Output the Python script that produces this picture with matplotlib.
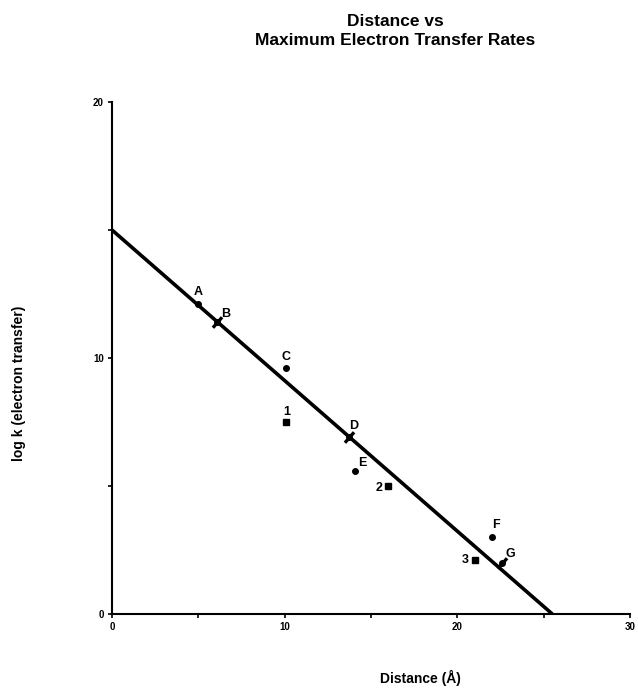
import matplotlib.pyplot as plt
from matplotlib.ticker import MultipleLocator

# data
labels = ["A", "B", "C", "D", "E", "F", "G"]
dist = [5.0, 6.1, 10.1, 13.7, 14.1, 22.0, 22.6]
logk = [12.1, 11.4, 9.6, 6.9, 5.6, 3.0, 2.0]
on_line = ["B", "D", "G"]

sq_labels = ["1", "2", "3"]
sq_dist = [10.1, 16.0, 21.0]
sq_logk = [7.5, 5.0, 2.1]

fit_x = [0.0, 25.5]
fit_y = [15.0, 0.0]

# label offsets in pixels (dx, dy)
offsets = {"A": (0, 12), "B": (8, 8), "C": (0, 11), "D": (5, 11),
           "E": (7, 8), "F": (4, 12), "G": (8, 9),
           "1": (0, 10), "2": (-9, -2), "3": (-9, 0)}

plt.rcParams["font.family"] = ["Liberation Sans", "DejaVu Sans"]
plt.rcParams["font.weight"] = "bold"

fig = plt.figure(figsize=(6.38, 6.94), dpi=100)
ax = fig.add_axes([112 / 638, 1 - 614 / 694, 518 / 638, 512 / 694])

ax.plot(fit_x, fit_y, color="black", lw=2.6, solid_capstyle="butt", zorder=2)

for lab, x, y in zip(labels, dist, logk):
    if lab in on_line:
        ax.plot(x, y, marker=(2, 0, -41), color="black", ms=10, mew=2.4, zorder=3)
        ax.plot(x, y, "o", color="black", ms=4, zorder=3)
    else:
        ax.plot(x, y, "o", color="black", ms=4, zorder=3)
    ax.annotate(lab, (x, y), xytext=offsets[lab], textcoords="offset pixels",
                ha="center", va="center", fontsize=9, fontweight="bold")

for lab, x, y in zip(sq_labels, sq_dist, sq_logk):
    ax.plot(x, y, "s", color="black", ms=4.5, zorder=3)
    ax.annotate(lab, (x, y), xytext=offsets[lab], textcoords="offset pixels",
                ha="center", va="center", fontsize=9, fontweight="bold")

ax.set_xlim(0, 30)
ax.set_ylim(0, 20)
ax.xaxis.set_major_locator(MultipleLocator(10))
ax.xaxis.set_minor_locator(MultipleLocator(5))
ax.yaxis.set_major_locator(MultipleLocator(10))
ax.yaxis.set_minor_locator(MultipleLocator(5))
ax.tick_params(which="both", direction="out", length=3, width=1.2, labelsize=7, pad=3)
for lbl in ax.get_xticklabels() + ax.get_yticklabels():
    lbl.set_fontweight("bold")

ax.spines["top"].set_visible(False)
ax.spines["right"].set_visible(False)
ax.spines["left"].set_linewidth(1.5)
ax.spines["bottom"].set_linewidth(1.5)

fig.text(395 / 638, 1 - 31 / 694, "Distance vs\nMaximum Electron Transfer Rates",
         ha="center", va="center", fontsize=12.5, fontweight="bold", linespacing=1.3)
fig.text(420 / 638, 1 - 678 / 694, "Distance (Å)", ha="center", va="center",
         fontsize=10, fontweight="bold")
fig.text(19 / 638, 1 - 383 / 694, "log k (electron transfer)", ha="center", va="center",
         rotation=90, fontsize=10, fontweight="bold")

fig.savefig("out.png", dpi=100)
